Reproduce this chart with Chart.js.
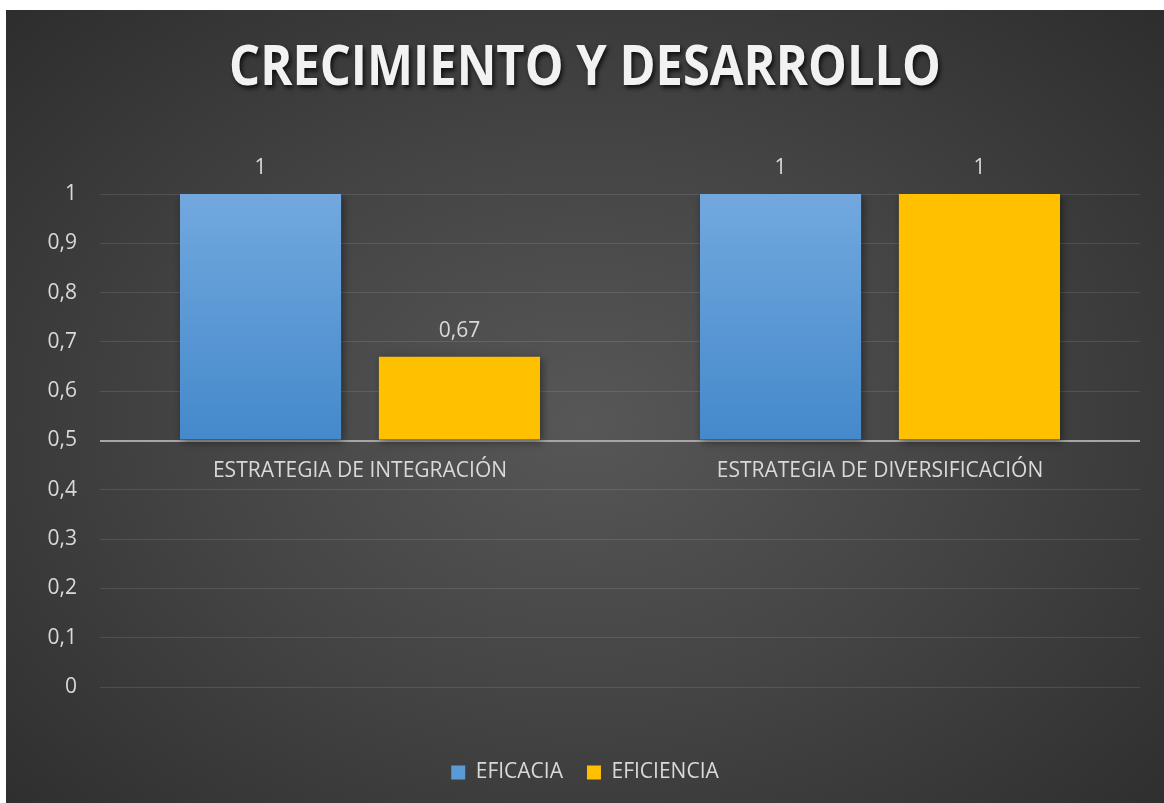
<!DOCTYPE html>
<html>
<head>
<meta charset="utf-8">
<script src="https://cdn.jsdelivr.net/npm/chart.js@4/dist/chart.umd.min.js"></script>
<style>
  html, body { margin: 0; padding: 0; background: #fff; }
  #panel {
    position: absolute; left: 6px; top: 10px; width: 1158px; height: 793px;
    background: radial-gradient(ellipse 75% 80% at 50% 52%, #575757 0%, #444 45%, #2a2a2a 100%);
  }
</style>
</head>
<body>
<div id="panel"><canvas id="chart" width="1158" height="793"></canvas></div>
<script>
const chartTitle = 'CRECIMIENTO Y DESARROLLO';
const categories = ['ESTRATEGIA DE INTEGRACIÓN', 'ESTRATEGIA DE DIVERSIFICACIÓN'];
const seriesNames = ['EFICACIA', 'EFICIENCIA'];
const eficacia = [1, 1];
const eficiencia = [0.67, 1];
const axisMin = 0, axisMax = 1, axisStep = 0.1;
const baseline = 0.5;

const textColor = '#d9d9d9';
const fontFamily = "'Open Sans', 'Noto Sans', sans-serif";

function fmt(v) {
    return String(Number(v.toFixed(2))).replace('.', ',');
}

function blueGradient(context) {
    const chart = context.chart;
    const area = chart.chartArea;
    if (!area) return '#5b9bd5';
    const y = chart.scales.y;
    const g = chart.ctx.createLinearGradient(0, y.getPixelForValue(axisMax), 0, y.getPixelForValue(baseline));
    g.addColorStop(0, '#72a8de');
    g.addColorStop(1, '#4489cb');
    return g;
}

// title, bar shadow, value labels and category labels
const decorPlugin = {
    id: 'decor',
    beforeDatasetsDraw(chart) {
        const ctx = chart.ctx;
        ctx.save();
        ctx.shadowColor = 'rgba(0,0,0,0.45)';
        ctx.shadowBlur = 8;
        ctx.shadowOffsetX = 2;
        ctx.shadowOffsetY = 2;
    },
    afterDatasetsDraw(chart) {
        const ctx = chart.ctx;
        ctx.restore();

        ctx.save();
        ctx.fillStyle = textColor;
        ctx.font = '21px ' + fontFamily;
        ctx.textAlign = 'center';
        ctx.textBaseline = 'middle';
        chart.data.datasets.forEach((ds, i) => {
            chart.getDatasetMeta(i).data.forEach((bar, j) => {
                ctx.fillText(fmt(ds.data[j]), bar.x, bar.y - 26);
            });
        });
        const xs = chart.scales.x, ys = chart.scales.y;
        const yLab = ys.getPixelForValue(baseline) + 31;
        categories.forEach((c, i) => {
            ctx.fillText(c, xs.getPixelForValue(i), yLab);
        });
        ctx.restore();
    },
    afterDraw(chart) {
        const ctx = chart.ctx;
        ctx.save();
        ctx.font = 'bold 56px ' + fontFamily;
        const w = ctx.measureText(chartTitle).width;
        const sx = 712 / w;
        ctx.translate(chart.width / 2, 59);
        ctx.scale(sx, 1);
        ctx.textAlign = 'center';
        ctx.textBaseline = 'middle';
        ctx.shadowColor = 'rgba(0,0,0,0.75)';
        ctx.shadowBlur = 4;
        ctx.shadowOffsetX = 2;
        ctx.shadowOffsetY = 3;
        ctx.fillStyle = '#f2f2f2';
        ctx.fillText(chartTitle, 0, 0);
        ctx.restore();
    }
};

new Chart(document.getElementById('chart'), {
    type: 'bar',
    data: {
        labels: categories,
        datasets: [
            {
                label: seriesNames[0],
                data: eficacia,
                base: baseline,
                backgroundColor: blueGradient,
                categoryPercentage: 0.765,
                barPercentage: 0.81
            },
            {
                label: seriesNames[1],
                data: eficiencia,
                base: baseline,
                backgroundColor: '#ffc000',
                categoryPercentage: 0.765,
                barPercentage: 0.81
            }
        ]
    },
    options: {
        responsive: false,
        animation: false,
        layout: { padding: { top: 184, right: 24, left: 24, bottom: 10 } },
        plugins: {
            title: { display: false },
            tooltip: { enabled: false },
            legend: {
                position: 'bottom',
                labels: {
                    color: textColor,
                    font: { size: 21, family: fontFamily },
                    boxWidth: 14,
                    boxHeight: 14,
                    padding: 24,
                    generateLabels(chart) {
                        return chart.data.datasets.map((ds, i) => ({
                            text: ds.label,
                            fillStyle: i === 0 ? '#5b9bd5' : '#ffc000',
                            strokeStyle: 'transparent',
                            lineWidth: 0,
                            fontColor: textColor,
                            datasetIndex: i
                        }));
                    }
                }
            }
        },
        scales: {
            x: {
                grid: { display: false },
                border: { display: false },
                ticks: { display: false },
                afterFit(s) { s.height = 51; }
            },
            y: {
                min: axisMin,
                max: axisMax,
                border: { display: false },
                grid: {
                    drawTicks: false,
                    color: c => (c.tick && c.tick.value === baseline) ? '#a6a6a6' : 'rgba(255,255,255,0.11)',
                    lineWidth: c => (c.tick && c.tick.value === baseline) ? 2 : 1
                },
                ticks: {
                    stepSize: axisStep,
                    padding: 23,
                    color: textColor,
                    font: { size: 21, family: fontFamily },
                    callback: v => fmt(v)
                },
                afterFit(s) { s.width = 70; }
            }
        }
    },
    plugins: [decorPlugin]
});
</script>
</body>
</html>
